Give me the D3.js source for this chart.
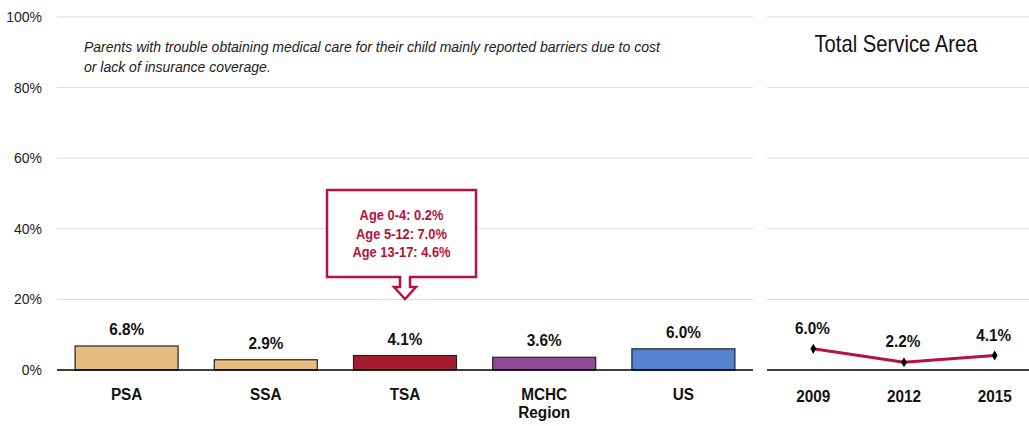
<!DOCTYPE html>
<html>
<head>
<meta charset="utf-8">
<title>Trouble obtaining medical care</title>
<script src="https://d3js.org/d3.v7.min.js"></script>
<style>
  body { margin: 0; background: #fff; }
  text { font-family: "Liberation Sans", Arial, sans-serif; }
</style>
</head>
<body>
<script>
// data
var categories = ["PSA", "SSA", "TSA", "MCHC Region", "US"];
var values = [6.8, 2.9, 4.1, 3.6, 6.0];
var barColors = ["#e6bd7e", "#e6bd7e", "#a51c30", "#8e4c96", "#5682d2"];
var years = ["2009", "2012", "2015"];
var tsaTrend = [6.0, 2.2, 4.1];
var yTicks = [0, 20, 40, 60, 80, 100];
var calloutLines = ["Age 0-4: 0.2%", "Age 5-12: 7.0%", "Age 13-17: 4.6%"];
var note = ["Parents with trouble obtaining medical care for their child mainly reported barriers due to cost",
            "or lack of insurance coverage."];

var width = 1029, height = 426;
var svg = d3.select("body").append("svg").attr("width", width).attr("height", height);

var y = d3.scaleLinear().domain([0, 100]).range([370, 17]);
var x = d3.scaleBand().domain(categories).range([57, 753]).paddingInner(0.26).paddingOuter(0.13);
var x2 = d3.scalePoint().domain(years).range([768, 1040]).padding(0.5);

// narrow look: put text at (px,py) and squeeze it horizontally
function place(sel, fx, fy, k) {
    sel.attr("x", 0).attr("y", 0)
        .attr("transform", (d, i) => "translate(" + fx(d, i) + "," + fy(d, i) + ") scale(" + k + ",1)");
}

// gridlines, left and right panel
[[57, 753], [767, 1029]].forEach(function (r) {
    svg.append("g").selectAll("line").data(yTicks.slice(1)).enter().append("line")
        .attr("x1", r[0]).attr("x2", r[1])
        .attr("y1", d => y(d)).attr("y2", d => y(d))
        .attr("stroke", "#dcdcdc").attr("stroke-width", 1);
});

// y axis labels
svg.append("g").selectAll("text").data(yTicks).enter().append("text")
    .attr("x", 42).attr("y", d => y(d)).attr("dy", "0.35em")
    .attr("text-anchor", "end").attr("font-size", "14px").attr("fill", "#222")
    .text(d => d + "%");

// bars
svg.append("g").selectAll("rect").data(values).enter().append("rect")
    .attr("x", (d, i) => x(categories[i]))
    .attr("y", d => y(d))
    .attr("width", x.bandwidth())
    .attr("height", d => y(0) - y(d))
    .attr("fill", (d, i) => barColors[i])
    .attr("stroke", "#222").attr("stroke-width", 1.2);

// zero lines
[[57, 753], [767, 1029]].forEach(function (r) {
    svg.append("line").attr("x1", r[0]).attr("x2", r[1]).attr("y1", y(0)).attr("y2", y(0))
        .attr("stroke", "#000").attr("stroke-width", 1.3);
});

// bar value labels
svg.append("g").selectAll("text").data(values).enter().append("text")
    .attr("text-anchor", "middle").attr("font-size", "17px").attr("font-weight", "bold").attr("fill", "#111")
    .text(d => d.toFixed(1) + "%")
    .call(place, (d, i) => x(categories[i]) + x.bandwidth() / 2, d => y(d) - 11, 0.9);

// category labels
svg.append("g").selectAll("text").data(categories).enter().append("text")
    .attr("text-anchor", "middle").attr("font-size", "17px").attr("font-weight", "bold").attr("fill", "#111")
    .call(place, d => x(d) + x.bandwidth() / 2, d => 400, 0.9)
    .each(function (d) {
        var t = d3.select(this);
        d.split(" ").forEach((w, i) => t.append("tspan").attr("x", 0).attr("dy", i ? "1.08em" : 0).text(w));
    });

// note
svg.append("g").selectAll("text").data(note).enter().append("text")
    .attr("x", 84).attr("y", (d, i) => 52 + i * 20)
    .attr("font-size", "14px").attr("font-style", "italic").attr("fill", "#222")
    .text(d => d);

// callout
var cx = x("TSA") + x.bandwidth() / 2;
var bx0 = 327, bx1 = 476, by0 = 190, by1 = 277;
var callout = d3.path();
callout.moveTo(bx0, by0); callout.lineTo(bx1, by0); callout.lineTo(bx1, by1);
callout.lineTo(cx + 5, by1); callout.lineTo(cx + 5, 287); callout.lineTo(cx + 11, 287);
callout.lineTo(cx, 299); callout.lineTo(cx - 11, 287); callout.lineTo(cx - 5, 287);
callout.lineTo(cx - 5, by1); callout.lineTo(bx0, by1); callout.closePath();
svg.append("path").attr("d", callout.toString())
    .attr("fill", "#fff").attr("stroke", "#b5133c").attr("stroke-width", 2.5).attr("stroke-linejoin", "miter");
svg.append("g").selectAll("text").data(calloutLines).enter().append("text")
    .attr("text-anchor", "middle").attr("font-size", "15px").attr("font-weight", "bold").attr("fill", "#b5133c")
    .text(d => d)
    .call(place, d => (bx0 + bx1) / 2, (d, i) => 220 + i * 18.5, 0.86);

// right panel
svg.append("text").attr("text-anchor", "middle")
    .attr("font-size", "23px").attr("fill", "#111").text("Total Service Area")
    .call(place, d => 896, d => 52, 0.88);

var line = d3.line().x((d, i) => x2(years[i])).y(d => y(d));
svg.append("path").datum(tsaTrend).attr("d", line)
    .attr("fill", "none").attr("stroke", "#b5133c").attr("stroke-width", 3);
svg.append("g").selectAll("path").data(tsaTrend).enter().append("path")
    .attr("d", d3.symbol().type(d3.symbolDiamond).size(30))
    .attr("transform", (d, i) => "translate(" + x2(years[i]) + "," + y(d) + ")")
    .attr("fill", "#000");
svg.append("g").selectAll("text").data(tsaTrend).enter().append("text")
    .attr("text-anchor", "middle").attr("font-size", "17px").attr("font-weight", "bold").attr("fill", "#111")
    .text(d => d.toFixed(1) + "%")
    .call(place, (d, i) => x2(years[i]) - 1, d => y(d) - 15, 0.9);
svg.append("g").selectAll("text").data(years).enter().append("text")
    .attr("text-anchor", "middle").attr("font-size", "17px").attr("font-weight", "bold").attr("fill", "#111")
    .text(d => d)
    .call(place, d => x2(d), d => 402, 0.9);
</script>
</body>
</html>
